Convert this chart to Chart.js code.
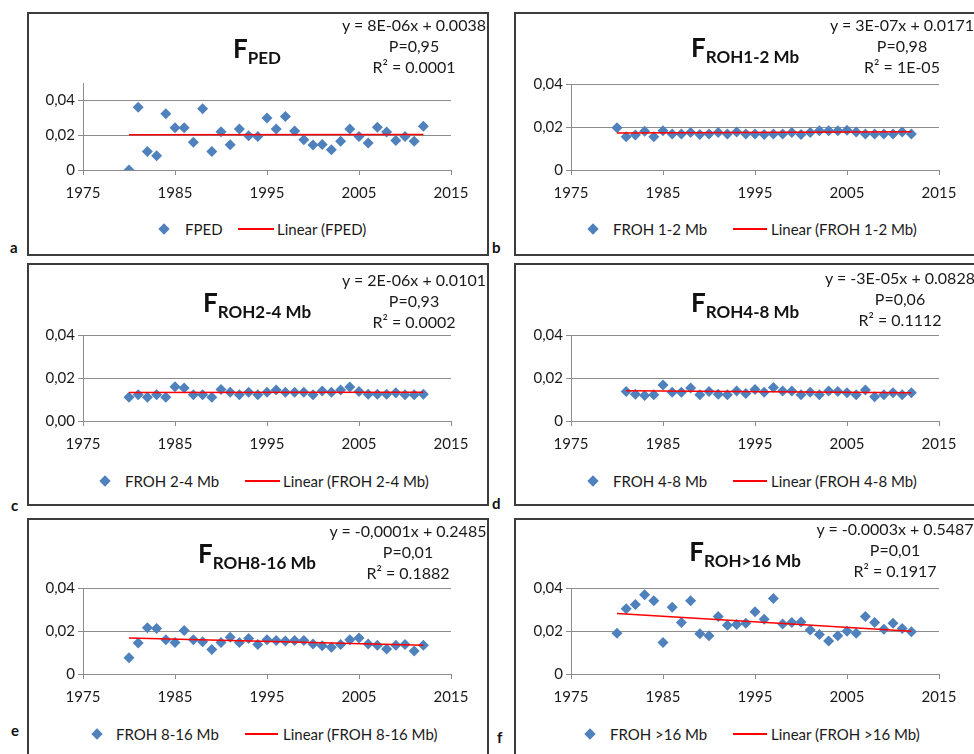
<!DOCTYPE html>
<html>
<head>
<meta charset="utf-8">
<script src="https://cdn.jsdelivr.net/npm/chart.js@4.4.1/dist/chart.umd.min.js"></script>
<style>
  html, body { margin: 0; padding: 0; background: #fff; }
  body { width: 974px; height: 754px; overflow: hidden; position: relative; font-family: Lato, "Noto Sans", sans-serif; color: #1a1a1a; }
  .panel { position: absolute; border: 2px solid #3c3c3c; box-sizing: border-box; }
  canvas { position: absolute; }
  .title { position: absolute; transform: translateX(-50%); font-weight: bold; white-space: nowrap; color: #111; line-height: 1; }
  .title .big { font-size: 26px; }
  .title .sub { font-size: 17px; position: relative; top: 6px; }
  .eq { position: absolute; transform: translateX(-50%); font-size: 16px; line-height: 21px; text-align: center; white-space: nowrap; }
  .leg { position: absolute; font-size: 15px; line-height: 16px; white-space: nowrap; }
  .diamond { position: absolute; width: 8px; height: 8px; background: #4F81BD; transform: rotate(45deg); }
  .redline { position: absolute; height: 2px; background: #FF0000; }
  .letter { position: absolute; font-size: 15px; font-weight: bold; line-height: 1; color: #111; }
</style>
</head>
<body>
<script>
// ========== DATA ==========
const years = [1980, 1981, 1982, 1983, 1984, 1985, 1986, 1987, 1988, 1989, 1990,
               1991, 1992, 1993, 1994, 1995, 1996, 1997, 1998, 1999, 2000, 2001,
               2002, 2003, 2004, 2005, 2006, 2007, 2008, 2009, 2010, 2011, 2012];
const years48 = years.slice(1); // FROH 4-8 starts in 1981

const fPed = [0.0000, 0.0360, 0.0107, 0.0082, 0.0323, 0.0243, 0.0243, 0.0159, 0.0352, 0.0107, 0.0220,
              0.0145, 0.0235, 0.0197, 0.0193, 0.0299, 0.0235, 0.0308, 0.0224, 0.0174, 0.0144, 0.0147,
              0.0117, 0.0165, 0.0235, 0.0193, 0.0155, 0.0245, 0.0218, 0.0170, 0.0193, 0.0165, 0.0251];
const fRoh12 = [0.0197, 0.0155, 0.0163, 0.0180, 0.0155, 0.0183, 0.0167, 0.0167, 0.0175, 0.0165, 0.0167,
                0.0175, 0.0168, 0.0177, 0.0167, 0.0168, 0.0165, 0.0167, 0.0167, 0.0175, 0.0165, 0.0175,
                0.0183, 0.0183, 0.0183, 0.0185, 0.0177, 0.0167, 0.0168, 0.0167, 0.0167, 0.0177, 0.0168];
const fRoh24 = [0.0110, 0.0122, 0.0110, 0.0122, 0.0110, 0.0159, 0.0153, 0.0122, 0.0122, 0.0110, 0.0147,
                0.0134, 0.0122, 0.0134, 0.0122, 0.0134, 0.0144, 0.0134, 0.0134, 0.0134, 0.0122, 0.0140,
                0.0134, 0.0144, 0.0158, 0.0137, 0.0125, 0.0125, 0.0125, 0.0131, 0.0122, 0.0122, 0.0125];
const fRoh48 = [0.0137, 0.0125, 0.0119, 0.0122, 0.0168, 0.0134, 0.0134, 0.0153, 0.0122, 0.0137,
                0.0125, 0.0122, 0.0140, 0.0128, 0.0147, 0.0134, 0.0156, 0.0140, 0.0140, 0.0122, 0.0134,
                0.0122, 0.0140, 0.0137, 0.0131, 0.0122, 0.0144, 0.0113, 0.0122, 0.0131, 0.0122, 0.0131];
const fRoh816 = [0.0076, 0.0144, 0.0215, 0.0212, 0.0159, 0.0147, 0.0202, 0.0159, 0.0150, 0.0114, 0.0147,
                 0.0171, 0.0147, 0.0165, 0.0137, 0.0159, 0.0156, 0.0153, 0.0156, 0.0156, 0.0140, 0.0131,
                 0.0125, 0.0137, 0.0159, 0.0168, 0.0140, 0.0134, 0.0116, 0.0134, 0.0137, 0.0107, 0.0134];
const fRoh16 = [0.0190, 0.0304, 0.0323, 0.0369, 0.0341, 0.0147, 0.0310, 0.0239, 0.0341, 0.0187, 0.0178,
                0.0267, 0.0227, 0.0230, 0.0236, 0.0289, 0.0255, 0.0351, 0.0233, 0.0239, 0.0242, 0.0205,
                0.0184, 0.0153, 0.0178, 0.0199, 0.0190, 0.0267, 0.0239, 0.0208, 0.0236, 0.0212, 0.0196];

// linear trend lines, start and end value
const trendYears = [1980, 2012];
const trendYears48 = [1981, 2012];
const trendPed = [0.0203, 0.0204];
const trend12 = [0.0172, 0.0178];
const trend24 = [0.0133, 0.0134];
const trend48 = [0.0141, 0.0131];
const trend816 = [0.0168, 0.0134];
const trend16 = [0.0281, 0.0199];

// tick labels
const xTicks = [1975, 1985, 1995, 2005, 2015];
const yTickLabels = ['0', '0,02', '0,04'];
const yTickLabels00 = ['0,00', '0,02', '0,04'];

// ========== PANELS ==========
const GRAY = '#8c8c8c';
const BLUE = '#4F81BD';

const panels = [
    { letter: 'a', ltr: [10, 240], box: [27, 12, 489, 256], area: [83, 83, 451, 170], yMax: 0.05, yLabels: yTickLabels,
      x: years, y: fPed, tx: trendYears, ty: trendPed, name: 'FPED', tmain: 'F', tsub: 'PED', tpos: [257, 35],
      eq: ['y = 8E-06x + 0.0038', 'P=0,95', 'R² = 0.0001'], eqPos: [414, 14], leg: [164, 185, 238, 274, 277, 229] },
    { letter: 'b', ltr: [492, 240], box: [514, 12, 977, 256], area: [571, 84, 939, 170], yMax: 0.04, yLabels: yTickLabels,
      x: years, y: fRoh12, tx: trendYears, ty: trend12, name: 'FROH 1-2 Mb', tmain: 'F', tsub: 'ROH1-2 Mb', tpos: [745, 34],
      eq: ['y = 3E-07x + 0.0171', 'P=0,98', 'R² = 1E-05'], eqPos: [902, 14], leg: [593, 613, 733, 767, 771, 229] },
    { letter: 'c', ltr: [11, 498], box: [27, 263, 489, 506], area: [83, 335, 451, 421], yMax: 0.04, yLabels: yTickLabels00,
      x: years, y: fRoh24, tx: trendYears, ty: trend24, name: 'FROH 2-4 Mb', tmain: 'F', tsub: 'ROH2-4 Mb', tpos: [257, 289],
      eq: ['y = 2E-06x + 0.0101', 'P=0,93', 'R² = 0.0002'], eqPos: [414, 269], leg: [105, 125, 245, 280, 283, 481] },
    { letter: 'd', ltr: [492, 496], box: [514, 263, 977, 506], area: [571, 335, 939, 421], yMax: 0.04, yLabels: yTickLabels,
      x: years48, y: fRoh48, tx: trendYears48, ty: trend48, name: 'FROH 4-8 Mb', tmain: 'F', tsub: 'ROH4-8 Mb', tpos: [745, 289],
      eq: ['y = -3E-05x + 0.0828', 'P=0,06', 'R² = 0.1112'], eqPos: [900, 267], leg: [593, 613, 733, 767, 771, 481] },
    { letter: 'e', ltr: [11, 723], box: [27, 518, 489, 780], area: [83, 588, 451, 674], yMax: 0.04, yLabels: yTickLabels,
      x: years, y: fRoh816, tx: trendYears, ty: trend816, name: 'FROH 8-16 Mb', tmain: 'F', tsub: 'ROH8-16 Mb', tpos: [257, 540],
      eq: ['y = -0,0001x + 0.2485', 'P=0,01', 'R² = 0.1882'], eqPos: [408, 520], leg: [97, 116, 245, 278, 283, 734] },
    { letter: 'f', ltr: [497, 730], box: [514, 518, 977, 780], area: [571, 588, 939, 674], yMax: 0.04, yLabels: yTickLabels,
      x: years, y: fRoh16, tx: trendYears, ty: trend16, name: 'FROH >16 Mb', tmain: 'F', tsub: 'ROH>16 Mb', tpos: [745, 538],
      eq: ['y = -0.0003x + 0.5487', 'P=0,01', 'R² = 0.1917'], eqPos: [895, 518], leg: [590, 610, 733, 767, 771, 734] }
];

Chart.defaults.font.family = 'Lato, "Noto Sans", sans-serif';
Chart.defaults.color = '#1a1a1a';

function addEl(cls, left, top, html) {
    const el = document.createElement('div');
    el.className = cls;
    el.style.left = left + 'px';
    el.style.top = top + 'px';
    if (html !== undefined) el.innerHTML = html;
    document.body.appendChild(el);
    return el;
}

function renderPanel(p) {
    const [bl, bt, br, bb] = p.box;
    const [al, at, ar, ab] = p.area;

    const box = addEl('panel', bl, bt);
    box.style.width = (br - bl) + 'px';
    box.style.height = (bb - bt) + 'px';

    addEl('letter', p.ltr[0], p.ltr[1], p.letter);

    // chart canvas covers the panel down to just below the x labels
    const axisH = 40;
    const canvas = document.createElement('canvas');
    canvas.width = br - bl;
    canvas.height = ab - bt + axisH;
    canvas.style.left = bl + 'px';
    canvas.style.top = bt + 'px';
    document.body.appendChild(canvas);

    const points = p.x.map((yr, i) => ({ x: yr, y: p.y[i] }));
    const trend = p.tx.map((yr, i) => ({ x: yr, y: p.ty[i] }));

    new Chart(canvas, {
        type: 'scatter',
        data: {
            datasets: [
                {
                    label: p.name,
                    data: points,
                    pointStyle: 'rectRot',
                    pointRadius: 5.5,
                    backgroundColor: BLUE,
                    borderColor: BLUE,
                    borderWidth: 0,
                    order: 1
                },
                {
                    label: 'Linear (' + p.name + ')',
                    data: trend,
                    showLine: true,
                    borderColor: '#FF0000',
                    borderWidth: 1.5,
                    pointRadius: 0,
                    fill: false,
                    order: 0
                }
            ]
        },
        options: {
            responsive: false,
            animation: false,
            layout: { padding: { left: 0, top: at - bt, right: br - ar, bottom: 0 } },
            plugins: { legend: { display: false }, tooltip: { enabled: false } },
            scales: {
                x: {
                    type: 'linear',
                    min: xTicks[0],
                    max: xTicks[xTicks.length - 1],
                    afterBuildTicks: s => { s.ticks = xTicks.map(v => ({ value: v })); },
                    ticks: { font: { size: 15 }, padding: 9, maxRotation: 0, callback: v => String(v) },
                    grid: { drawOnChartArea: false, drawTicks: true, tickLength: 5, color: GRAY },
                    border: { color: GRAY, width: 1 },
                    afterFit: s => { s.height = axisH; }
                },
                y: {
                    min: 0,
                    max: p.yMax,
                    bounds: 'data',
                    ticks: {
                        stepSize: 0.02,
                        includeBounds: false,
                        font: { size: 15 },
                        padding: 3,
                        callback: (v, i) => p.yLabels[i]
                    },
                    grid: { color: GRAY, tickLength: 5 },
                    border: { color: GRAY, width: 1 },
                    afterFit: s => { s.width = al - bl; }
                }
            }
        }
    });

    // title with subscript
    addEl('title', p.tpos[0], p.tpos[1],
        '<span class="big">' + p.tmain + '</span><span class="sub">' + p.tsub + '</span>');

    // trendline equation
    addEl('eq', p.eqPos[0], p.eqPos[1], p.eq.join('<br>'));

    // legend
    const [dx, t1, l1, l2, t2, ly] = p.leg;
    addEl('diamond', dx - 4, ly - 4);
    addEl('leg', t1, ly - 8, p.name);
    const line = addEl('redline', l1, ly - 1);
    line.style.width = (l2 - l1) + 'px';
    addEl('leg', t2, ly - 8, 'Linear (' + p.name + ')');
}

panels.forEach(renderPanel);
</script>
</body>
</html>
